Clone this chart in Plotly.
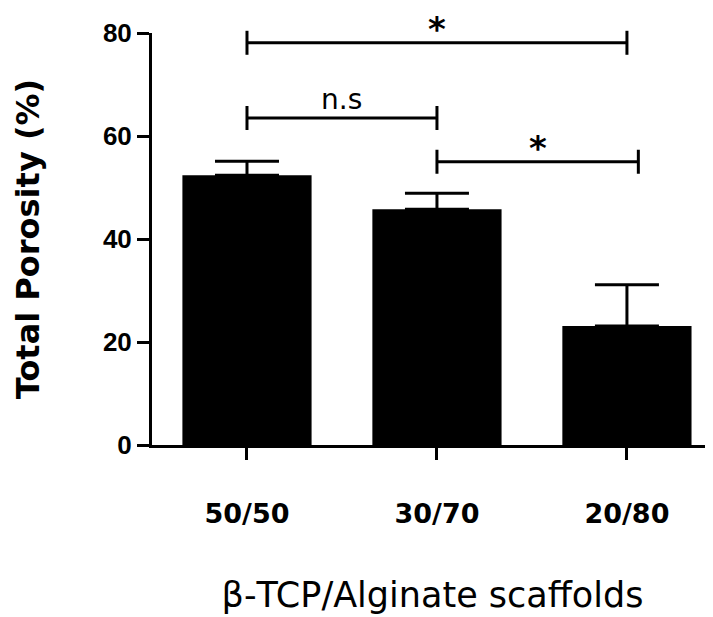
import plotly.graph_objects as go

# ---- data ----
categories = ["50/50", "30/70", "20/80"]
porosity_mean = [52.4, 45.8, 23.1]
porosity_sd = [2.7, 3.1, 8.0]
y_tick_values = [0, 20, 40, 60, 80]
y_max = 80

# significance brackets (category index positions, y level in %)
sig_labels = ["*", "n.s", "*"]
sig_left = [0, 0, 1]
sig_right = [2, 1, 2.06]
sig_level = [78.1, 63.5, 55.0]

x_title = "β-TCP/Alginate scaffolds"
y_title = "Total Porosity (%)"

# page body has an 8px margin; size the figure so the plot lands where intended
PAGE_OFF = 8
W, H = 713 - PAGE_OFF, 617 - PAGE_OFF
M_L, M_T, M_B = 152 - PAGE_OFF, 33 - PAGE_OFF, 172

# ---- figure ----
fig = go.Figure()
fig.add_trace(go.Bar(
    x=categories, y=porosity_mean,
    width=0.68,
    marker=dict(color="black", line=dict(width=0)),
    error_y=dict(type="data", symmetric=False, array=porosity_sd,
                 arrayminus=[0] * len(porosity_sd),
                 color="black", thickness=3, width=32),
    showlegend=False,
))

plot_h = H - M_T - M_B
tick_half = 12 / plot_h
shapes = []
annotations = []
for lab, x0, x1, lvl in zip(sig_labels, sig_left, sig_right, sig_level):
    yp = lvl / y_max
    line = dict(color="black", width=3)
    shapes.append(dict(type="line", xref="x", yref="paper", x0=x0, x1=x1, y0=yp, y1=yp, line=line))
    for xe in (x0, x1):
        shapes.append(dict(type="line", xref="x", yref="paper", x0=xe, x1=xe,
                           y0=yp - tick_half, y1=yp + tick_half, line=line))
    if lab == "*":
        annotations.append(dict(x=(x0 + x1) / 2, y=yp, xref="x", yref="paper",
                                text="*", showarrow=False, yanchor="bottom", yshift=-8,
                                font=dict(family="DejaVu Sans", size=34, color="black", weight="bold")))
    else:
        annotations.append(dict(x=(x0 + x1) / 2, y=yp, xref="x", yref="paper",
                                text=lab, showarrow=False, yanchor="bottom", yshift=0,
                                font=dict(family="DejaVu Sans", size=28, color="black")))

fig.update_layout(
    width=W, height=H,
    margin=dict(l=M_L, r=0, t=M_T, b=M_B),
    paper_bgcolor="white", plot_bgcolor="white",
    shapes=shapes, annotations=annotations,
)
fig.update_xaxes(
    type="category", range=[-0.5, 2.453],
    showline=True, linecolor="black", linewidth=3,
    ticks="outside", ticklen=12, tickwidth=3, tickcolor="black",
    tickfont=dict(family="DejaVu Sans", size=27, color="black", weight="bold"),
    ticklabelstandoff=31,
    showgrid=False, zeroline=False, automargin=False,
    title=dict(text=x_title, font=dict(family="DejaVu Sans", size=35, color="black"), standoff=55),
)
fig.update_yaxes(
    range=[0, y_max], tickvals=y_tick_values,
    showline=True, linecolor="black", linewidth=3,
    ticks="outside", ticklen=12, tickwidth=3, tickcolor="black",
    tickfont=dict(family="Liberation Sans", size=26, color="black", weight="bold"),
    showgrid=False, zeroline=False, automargin=False,
    title=dict(text=y_title, font=dict(family="DejaVu Sans", size=32, color="black", weight="bold"), standoff=54),
)

fig.write_html("out.html")
